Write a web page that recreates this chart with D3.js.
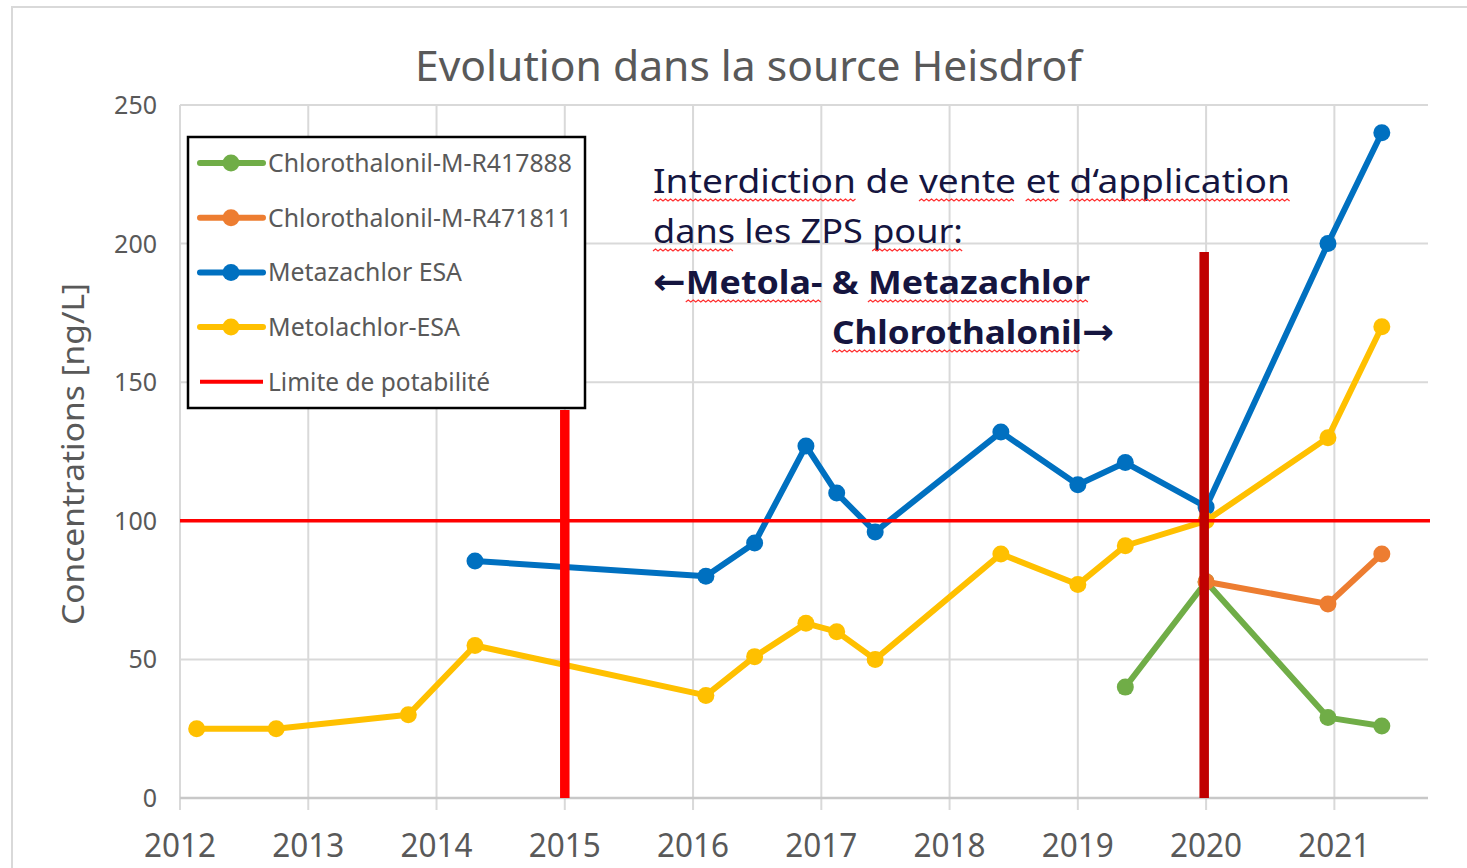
<!DOCTYPE html>
<html>
<head>
<meta charset="utf-8">
<script src="https://cdn.jsdelivr.net/npm/d3@7"></script>
<style>
  body { margin: 0; background: #fff; }
  svg { display: block; }
</style>
</head>
<body>
<div id="chart"></div>
<script>
// ---- données ----
const yearTicks = [2012, 2013, 2014, 2015, 2016, 2017, 2018, 2019, 2020, 2021];
const concTicks = [0, 50, 100, 150, 200, 250];

const metazachlorDates = [2014.30, 2016.10, 2016.48, 2016.88, 2017.12, 2017.42, 2018.40, 2019.00, 2019.37, 2020.00, 2020.95, 2021.37];
const metazachlorVals  = [85.5, 80, 92, 127, 110, 96, 132, 113, 121, 105, 200, 240];

const metolachlorDates = [2012.13, 2012.75, 2013.78, 2014.30, 2016.10, 2016.48, 2016.88, 2017.12, 2017.42, 2018.40, 2019.00, 2019.37, 2020.00, 2020.95, 2021.37];
const metolachlorVals  = [25, 25, 30, 55, 37, 51, 63, 60, 50, 88, 77, 91, 100, 130, 170];

const r471811Dates = [2020.00, 2020.95, 2021.37];
const r471811Vals  = [78, 70, 88];

const r417888Dates = [2019.37, 2020.00, 2020.95, 2021.37];
const r417888Vals  = [40, 78, 29, 26];

const limite = 100;
const interdictions = [2015, 2019.985]; // barres verticales
const interdictionTop = [140, 197];     // hauteur des barres (ng/L)

const seriesNames = ["Chlorothalonil-M-R417888", "Chlorothalonil-M-R471811", "Metazachlor ESA", "Metolachlor-ESA", "Limite de potabilité"];

// ---- dimensions ----
const W = 1467, H = 868;
const x = d3.scaleLinear().domain([2012, 2021.73]).range([180, 1428]);
const y = d3.scaleLinear().domain([0, 250]).range([798, 105]);

const grey = "#595959";
const font = "'Noto Sans', 'Open Sans', sans-serif";

const svg = d3.select("#chart").append("svg")
  .attr("width", W).attr("height", H)
  .style("font-family", font);

// cadre du graphique
svg.append("path")
  .attr("d", `M12,${H} L12,7 L${W},7`)
  .attr("fill", "none").attr("stroke", "#d9d9d9").attr("stroke-width", 2);

// petite fonction pour caler un texte sur une largeur
function fit(sel, width) {
  const node = sel.node();
  const natural = node.getComputedTextLength();
  sel.attr("textLength", width).attr("lengthAdjust", "spacingAndGlyphs");
  return width / natural;
}

// titre
svg.append("text")
  .attr("x", 415).attr("y", 81)
  .attr("fill", grey).style("font-size", "42px")
  .text("Evolution dans la source Heisdrof")
  .call(s => fit(s, 667));

// grille
svg.append("g").selectAll("line")
  .data(concTicks.filter(d => d > 0))
  .join("line")
    .attr("x1", x(2012)).attr("x2", x.range()[1])
    .attr("y1", d => y(d)).attr("y2", d => y(d))
    .attr("stroke", "#d9d9d9").attr("stroke-width", 2);

svg.append("g").selectAll("line")
  .data(yearTicks)
  .join("line")
    .attr("x1", d => x(d)).attr("x2", d => x(d))
    .attr("y1", y(250)).attr("y2", y(0) + 12)
    .attr("stroke", "#d9d9d9").attr("stroke-width", 2);

// axe des x
svg.append("line")
  .attr("x1", x(2012)).attr("x2", x.range()[1])
  .attr("y1", y(0)).attr("y2", y(0))
  .attr("stroke", "#c8c8c8").attr("stroke-width", 2.5);

svg.append("g").selectAll("text")
  .data(yearTicks)
  .join("text")
    .attr("x", d => x(d)).attr("y", 857)
    .attr("text-anchor", "middle")
    .attr("fill", grey).style("font-size", "32px")
    .text(d => d)
    .each(function() { fit(d3.select(this), 72); });

// axe des y (étiquettes seules)
svg.append("g").selectAll("text")
  .data(concTicks)
  .join("text")
    .attr("x", 157).attr("y", d => y(d) + 9)
    .attr("text-anchor", "end")
    .attr("fill", grey).style("font-size", "25px")
    .text(d => d);

svg.append("text")
  .attr("transform", `translate(84,454) rotate(-90)`)
  .attr("text-anchor", "middle")
  .attr("fill", grey).style("font-size", "31px")
  .text("Concentrations [ng/L]")
  .call(s => fit(s, 342));

// ---- séries ----
const series = [
  { name: seriesNames[0], color: "#70AD47", dates: r417888Dates, vals: r417888Vals },
  { name: seriesNames[1], color: "#ED7D31", dates: r471811Dates, vals: r471811Vals },
  { name: seriesNames[2], color: "#0070C0", dates: metazachlorDates, vals: metazachlorVals },
  { name: seriesNames[3], color: "#FFC000", dates: metolachlorDates, vals: metolachlorVals }
];

const line = d3.line().x(d => x(d[0])).y(d => y(d[1]));

series.forEach(s => {
  const pts = s.dates.map((d, i) => [d, s.vals[i]]);
  const g = svg.append("g");
  g.append("path")
    .attr("d", line(pts))
    .attr("fill", "none").attr("stroke", s.color)
    .attr("stroke-width", 6).attr("stroke-linejoin", "round");
  g.selectAll("circle")
    .data(pts)
    .join("circle")
      .attr("cx", d => x(d[0])).attr("cy", d => y(d[1]))
      .attr("r", 8.5).attr("fill", s.color);
});

// limite de potabilité
svg.append("line")
  .attr("x1", x(2012)).attr("x2", 1430)
  .attr("y1", y(limite)).attr("y2", y(limite))
  .attr("stroke", "#FF0000").attr("stroke-width", 3.5);

// barres d'interdiction
svg.append("g").selectAll("line")
  .data(interdictions)
  .join("line")
    .attr("x1", d => x(d)).attr("x2", d => x(d))
    .attr("y1", (d, i) => y(interdictionTop[i])).attr("y2", y(0))
    .attr("stroke", (d, i) => i === 0 ? "#FF0000" : "#C00000")
    .attr("stroke-width", 9.5);

// ---- légende ----
const leg = svg.append("g");
leg.append("rect")
  .attr("x", 188).attr("y", 137).attr("width", 397).attr("height", 271)
  .attr("fill", "#fff").attr("stroke", "#000").attr("stroke-width", 2.5);

const legWidths = [304, 304, 194, 192, 222];
const legColors = series.map(s => s.color).concat(["#FF0000"]);
seriesNames.forEach((name, i) => {
  const cy = 163 + i * 54.7;
  leg.append("line")
    .attr("x1", 200).attr("x2", 263).attr("y1", cy).attr("y2", cy)
    .attr("stroke", legColors[i]).attr("stroke-width", i < 4 ? 6 : 4)
    .attr("stroke-linecap", i < 4 ? "round" : "butt");
  if (i < 4) {
    leg.append("circle").attr("cx", 231).attr("cy", cy).attr("r", 8.5).attr("fill", legColors[i]);
  }
  leg.append("text")
    .attr("x", 268).attr("y", cy + 9)
    .attr("fill", grey).style("font-size", "25px")
    .text(name)
    .call(s => fit(s, legWidths[i]));
});

// ---- annotation ----
const navy = "#15153f";
// parts: [texte, flèche?]
const notes = [
  { parts: [["Interdiction de vente et d‘application", false]], x: 653, y: 193, w: 637, bold: false, flag: ["Interdiction", "vente", "et", "d‘application"] },
  { parts: [["dans les ZPS pour:", false]], x: 653, y: 243, w: 310, bold: false, flag: ["dans", "pour:"] },
  { parts: [["←", true], ["Metola- & Metazachlor", false]], x: 653, y: 294, w: 437, bold: true, flag: ["Metola-", "Metazachlor"] },
  { parts: [["Chlorothalonil", false], ["→", true]], x: 832, y: 344, w: 282, bold: true, flag: ["Chlorothalonil"] }
];

function wave(x0, x1, yy) {
  let d = `M${x0},${yy}`;
  let up = true;
  for (let xx = x0 + 2.5; xx <= x1; xx += 2.5) {
    d += ` L${xx},${yy + (up ? -2 : 0)}`;
    up = !up;
  }
  return d;
}

notes.forEach(n => {
  const t = svg.append("text")
    .attr("x", n.x).attr("y", n.y)
    .attr("fill", navy)
    .style("font-size", "33px")
    .style("font-weight", n.bold ? "bold" : "normal");
  n.parts.forEach(([txt, isArrow]) => {
    const ts = t.append("tspan").text(txt);
    if (isArrow) ts.style("font-family", "'DejaVu Sans', sans-serif").style("font-size", "36px");
  });
  const full = n.parts.map(p => p[0]).join("");
  const node = t.node();
  const sub = [];
  n.flag.forEach(w => {
    const idx = full.indexOf(w);
    sub.push([node.getSubStringLength(0, idx), node.getSubStringLength(idx, w.length)]);
  });
  const k = fit(t, n.w);
  sub.forEach(([a, b]) => {
    svg.append("path")
      .attr("d", wave(n.x + a * k, n.x + (a + b) * k, n.y + 8))
      .attr("fill", "none").attr("stroke", "#ff3030").attr("stroke-width", 1.2);
  });
});
</script>
</body>
</html>
